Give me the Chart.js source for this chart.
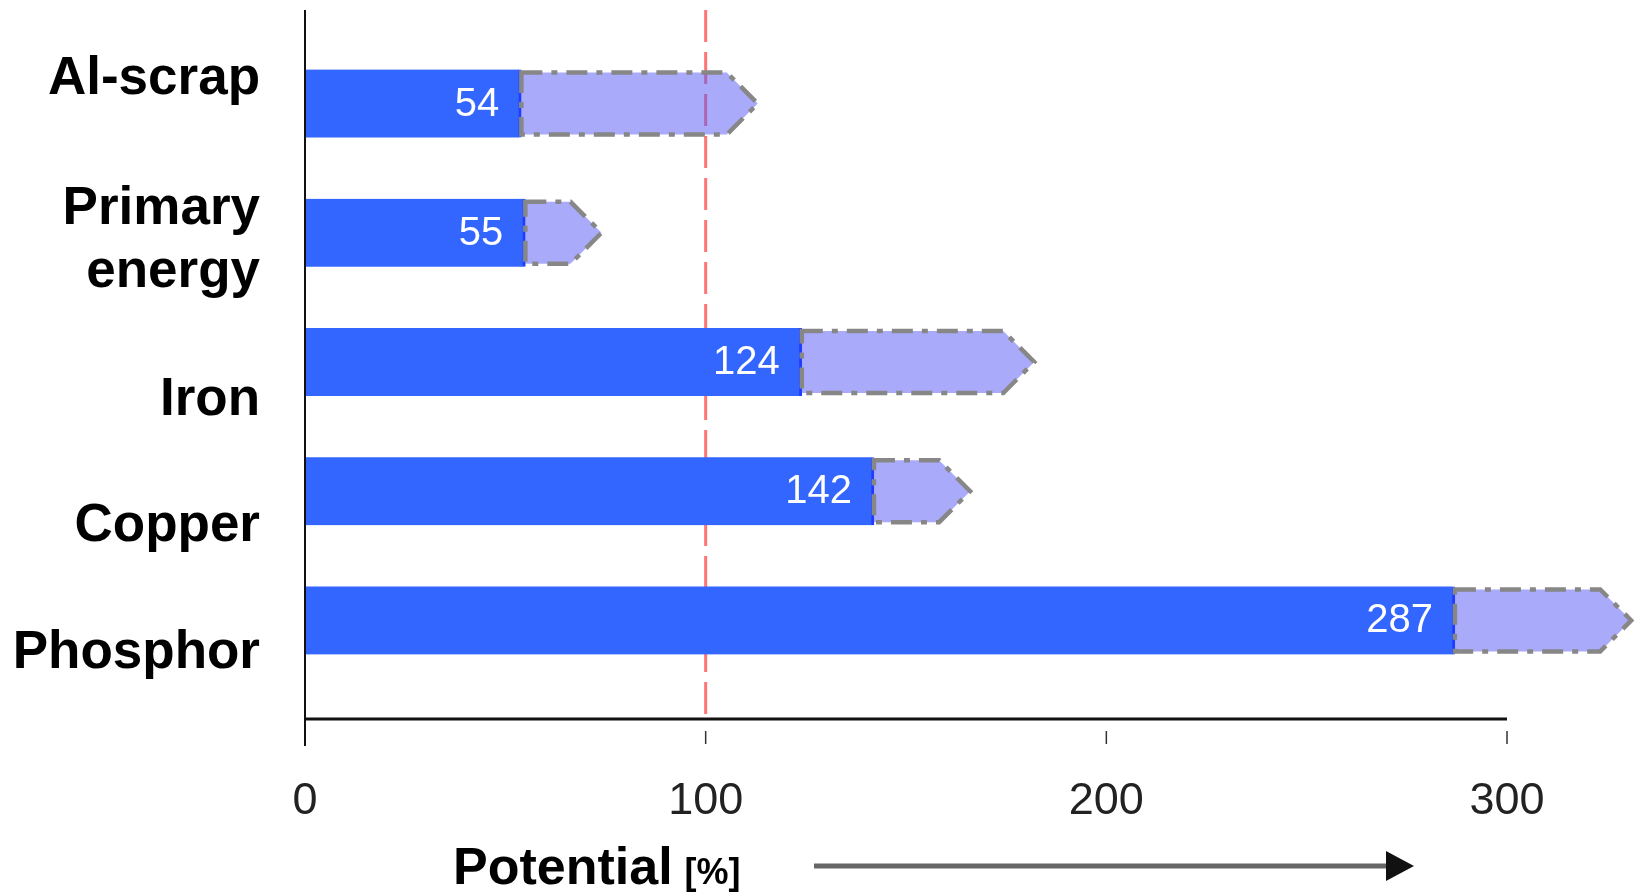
<!DOCTYPE html>
<html>
<head>
<meta charset="utf-8">
<script src="https://cdn.jsdelivr.net/npm/chart.js@4/dist/chart.umd.min.js"></script>
<style>
  html, body { margin: 0; padding: 0; background: #fff; }
  #wrap { width: 1640px; height: 893px; }
</style>
</head>
<body>
<div id="wrap"><canvas id="grafico" width="1640" height="893"></canvas></div>
<script>
// dados
const categorias = ['Al-scrap', ['Primary', 'energy'], 'Iron', 'Copper', 'Phosphor']
const atual      = [54, 55, 124, 142, 287]
const potencial  = [113, 74, 182, 166, 331]   // ponta da seta
const xTicks     = [0, 100, 200, 300]
const linhaRef   = 100

// no original os nomes nao ficam centrados nas barras (linha de base em relacao ao centro)
const rotuloDy = [-10, -9, 53, 50, 48]

const fonte = "'Liberation Sans', Arial, sans-serif"

// eixos, linha vermelha, setas e rotulos
const desenho = {
    id: 'desenho',
    beforeDatasetsDraw(chart) {
        const { ctx, chartArea, scales } = chart
        const xr = scales.x.getPixelForValue(linhaRef)
        ctx.save()
        ctx.strokeStyle = '#ff7474'
        ctx.lineWidth = 3
        ctx.setLineDash([32, 10])
        ctx.beginPath()
        ctx.moveTo(xr, chartArea.top - 29)
        ctx.lineTo(xr, chartArea.bottom + 34)
        ctx.stroke()
        ctx.restore()
    },
    afterDatasetsDraw(chart) {
        const { ctx, chartArea, scales } = chart
        const meta = chart.getDatasetMeta(1)
        ctx.save()
        meta.data.forEach((bar) => {
            const h = bar.height
            const top = bar.y - h / 2
            const bot = bar.y + h / 2
            const ombro = bar.x - h / 2
            ctx.beginPath()
            ctx.moveTo(bar.base, top)
            ctx.lineTo(ombro, top)
            ctx.lineTo(bar.x, bar.y)
            ctx.lineTo(ombro, bot)
            ctx.lineTo(bar.base, bot)
            ctx.closePath()
            ctx.fillStyle = 'rgba(85, 85, 245, 0.5)'
            ctx.fill()
            ctx.setLineDash([21, 9, 6, 9])
            ctx.lineWidth = 4.5
            ctx.strokeStyle = '#878787'
            ctx.stroke()
        })
        ctx.setLineDash([])

        // valores dentro das barras azuis
        ctx.font = '40px ' + fonte
        ctx.fillStyle = '#ffffff'
        ctx.textAlign = 'right'
        ctx.textBaseline = 'middle'
        chart.getDatasetMeta(0).data.forEach((bar, i) => {
            ctx.fillText(String(atual[i]), bar.x - 22, bar.y + 1)
        })

        // nomes das categorias
        ctx.font = 'bold 53px ' + fonte
        ctx.fillStyle = '#000'
        ctx.textBaseline = 'alphabetic'
        categorias.forEach((cat, i) => {
            const linhas = Array.isArray(cat) ? cat : [cat]
            const yc = scales.y.getPixelForTick(i)
            linhas.forEach((txt, k) => {
                ctx.fillText(txt, chartArea.left - 45, yc + rotuloDy[i] + k * 63)
            })
        })

        // eixos
        const x0 = chartArea.left
        const yEixo = chartArea.bottom + 34
        ctx.strokeStyle = '#111'
        ctx.lineWidth = 2
        ctx.beginPath()
        ctx.moveTo(x0, chartArea.top - 29)
        ctx.lineTo(x0, yEixo + 27)
        ctx.stroke()
        ctx.lineWidth = 3
        ctx.beginPath()
        ctx.moveTo(x0, yEixo)
        ctx.lineTo(chartArea.right, yEixo)
        ctx.stroke()
        ctx.lineWidth = 1.5
        ctx.strokeStyle = '#333'
        xTicks.slice(1).forEach((v) => {
            const px = scales.x.getPixelForValue(v)
            ctx.beginPath()
            ctx.moveTo(px, yEixo + 12)
            ctx.lineTo(px, yEixo + 25)
            ctx.stroke()
        })

        // titulo do eixo x com seta
        ctx.fillStyle = '#000'
        ctx.textAlign = 'left'
        ctx.font = 'bold 52px ' + fonte
        ctx.fillText('Potential', 453, 884)
        const w = ctx.measureText('Potential').width
        ctx.font = 'bold 36px ' + fonte
        ctx.fillText('[%]', 453 + w + 12, 884)

        ctx.strokeStyle = '#666'
        ctx.lineWidth = 5
        ctx.beginPath()
        ctx.moveTo(814, 866)
        ctx.lineTo(1390, 866)
        ctx.stroke()
        ctx.fillStyle = '#111'
        ctx.beginPath()
        ctx.moveTo(1386, 851)
        ctx.lineTo(1414, 866)
        ctx.lineTo(1386, 881)
        ctx.closePath()
        ctx.fill()
        ctx.restore()
    }
}

new Chart(document.getElementById('grafico'), {
    type: 'bar',
    data: {
        labels: categorias,
        datasets: [
            {
                data: atual,
                backgroundColor: '#3366ff',
                borderColor: '#1f3cff',
                borderWidth: { right: 3, left: 0, top: 0, bottom: 0 },
                borderSkipped: false,
                barThickness: 68,
                grouped: false,
                order: 2
            },
            {
                data: atual.map((v, i) => [v, potencial[i]]),
                backgroundColor: 'rgba(0,0,0,0)',
                borderWidth: 0,
                barThickness: 62,
                grouped: false,
                clip: false,
                order: 1
            }
        ]
    },
    options: {
        indexAxis: 'y',
        responsive: false,
        animation: false,
        devicePixelRatio: 1,
        layout: { padding: { top: 39, right: 133, bottom: 67, left: 0 } },
        plugins: { legend: { display: false }, tooltip: { enabled: false } },
        scales: {
            x: {
                min: 0,
                max: 300,
                afterBuildTicks: (s) => { s.ticks = xTicks.map((v) => ({ value: v })) },
                grid: { display: false, drawTicks: false },
                border: { display: false },
                ticks: { padding: 90, color: '#222', font: { family: fonte, size: 45 } },
                afterFit: (s) => { s.height = 141; s.paddingLeft = 0; s.paddingRight = 0 }
            },
            y: {
                offset: true,
                grid: { display: false, drawTicks: false },
                border: { display: false },
                ticks: { display: false, autoSkip: false },
                afterFit: (s) => { s.width = 305; s.paddingTop = 0; s.paddingBottom = 0 }
            }
        }
    },
    plugins: [desenho]
})
</script>
</body>
</html>
